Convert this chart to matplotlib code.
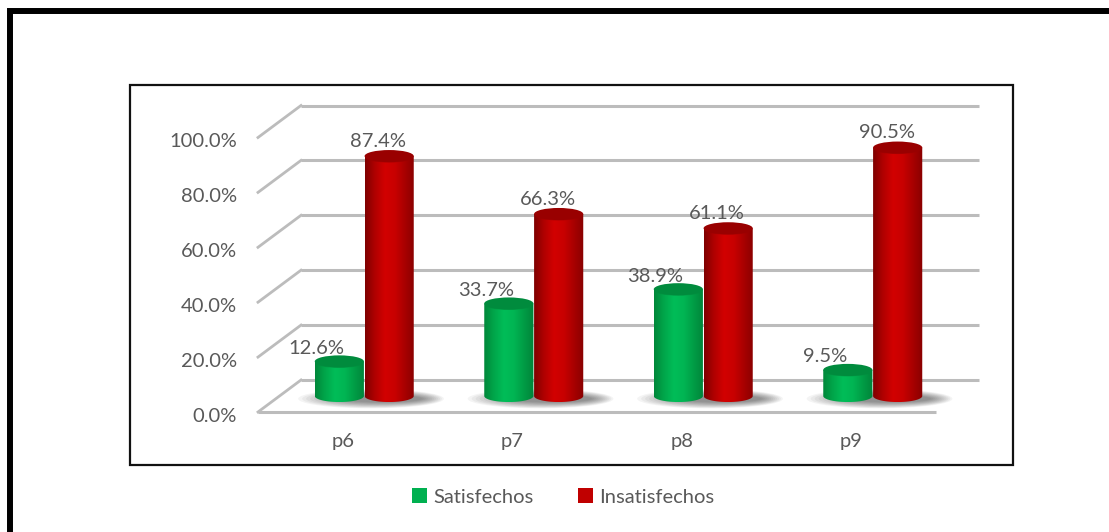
import numpy as np
import matplotlib.pyplot as plt
from matplotlib import transforms
from matplotlib.patches import Ellipse, Rectangle, PathPatch
from matplotlib.path import Path
from matplotlib.lines import Line2D
from matplotlib.colors import LinearSegmentedColormap

plt.rcParams['font.family'] = ['Lato', 'DejaVu Sans']

categorias = ['p6', 'p7', 'p8', 'p9']
satisfechos = [12.6, 33.7, 38.9, 9.5]
insatisfechos = [87.4, 66.3, 61.1, 90.5]
ticks = [0, 20, 40, 60, 80, 100]
series = ['Satisfechos', 'Insatisfechos']

TXT = '#595959'
GRID = '#bcbcbc'
FS = 14.5

W, H = 1109, 532
YMIN = -12
fig = plt.figure(figsize=(W / 100, H / 100), dpi=100)
# axes = middle depth plane where the cylinders stand (2.745 px per %)
ax = fig.add_axes([279.5 / W, (H - 396 - 2.745 * -YMIN) / H,
                   678 / W, 2.745 * (100 - YMIN) / H])
ax.axis('off')
ax.set_xlim(-0.5, 3.5)
ax.set_ylim(YMIN, 100)


def shift(dx, dy):
    return transforms.ScaledTranslation(dx / fig.dpi, dy / fig.dpi, fig.dpi_scale_trans)


back = ax.transData + shift(21.5, 16)
front = ax.transData + shift(-21.5, -16)

# back wall gridlines + left side wall slants
for t in ticks:
    ax.plot([-0.5, 3.5], [t, t], color=GRID, lw=2.2, transform=back, zorder=1,
            solid_capstyle='butt', clip_on=False)
    p0 = front.transform((-0.5, t))
    p1 = back.transform((-0.5, t))
    fig.add_artist(Line2D([p0[0], p1[0]], [p0[1], p1[1]], color=GRID, lw=2.0,
                          transform=transforms.IdentityTransform(), zorder=1))
    ax.text(-0.5, t, f'{t:.1f}%', transform=front + shift(-21, -4),
            ha='right', va='center', fontsize=FS, color=TXT)

# floor front edge
ax.plot([-0.5, 3.5], [0, 0], color=GRID, lw=2.2, transform=front, zorder=1,
        solid_capstyle='butt', clip_on=False)

for i, c in enumerate(categorias):
    ax.text(i, 0, c, transform=front + shift(0, -30), ha='center', va='center',
            fontsize=FS, color=TXT)

w = 0.29
eh = 4.4  # ellipse height in value units (~12 px)

cm_green = LinearSegmentedColormap.from_list(
    'g', ['#00873a', '#00a64a', '#00bd58', '#00b553', '#009c45', '#00843a'])
cm_red = LinearSegmentedColormap.from_list(
    'r', ['#7e0000', '#b00000', '#d20000', '#c80000', '#a80000', '#880000'])
top_green = '#008b3d'
top_red = '#990000'

grad = np.linspace(0, 1, 256).reshape(1, -1)

# soft floor shadows, a bit heavier towards the right
for i in range(len(categorias)):
    for k in range(12):
        sw = 0.86 - k * 0.035
        sh = 7.0 - k * 0.4
        ax.add_patch(Ellipse((i + 0.04 + k * 0.006, -1.0), sw, sh, color='black',
                             alpha=0.045, lw=0, zorder=2))


def cylinder(xc, v, cmap, topc, z):
    x0, x1 = xc - w / 2, xc + w / 2
    th = np.linspace(np.pi, 2 * np.pi, 60)
    verts = [(x0, v)] + [(x0, 0)]
    verts += list(zip(xc + w / 2 * np.cos(th), eh / 2 * np.sin(th)))
    verts += [(x1, v), (x0, v)]
    codes = [Path.MOVETO] + [Path.LINETO] * (len(verts) - 2) + [Path.CLOSEPOLY]
    body = PathPatch(Path(verts, codes), fc='none', lw=0, transform=ax.transData)
    ax.add_patch(body)
    im = ax.imshow(grad, extent=[x0, x1, -eh / 2, v], aspect='auto', cmap=cmap,
                   interpolation='bicubic', zorder=z)
    im.set_clip_path(body)
    ax.add_patch(Ellipse((xc, v), w, eh, fc=topc, ec='none', zorder=z + 0.1))
    ax.add_patch(Ellipse((xc, v - 0.6), w * 0.96, eh * 0.8, fc=topc, ec='none',
                         alpha=0.6, zorder=z + 0.1))


for i in range(len(categorias)):
    cylinder(i - 0.147, satisfechos[i], cm_green, top_green, 3)
    cylinder(i + 0.147, insatisfechos[i], cm_red, top_red, 4)

for i in range(len(categorias)):
    ax.annotate(f'{satisfechos[i]:.1f}%', (i - 0.147, satisfechos[i]),
                xytext=(-23, 13), textcoords='offset pixels', ha='center',
                va='center', fontsize=FS, color=TXT, zorder=6)
    ax.annotate(f'{insatisfechos[i]:.1f}%', (i + 0.147, insatisfechos[i]),
                xytext=(-11, 15), textcoords='offset pixels', ha='center',
                va='center', fontsize=FS, color=TXT, zorder=6)

ax.set_xlim(-0.5, 3.5)
ax.set_ylim(YMIN, 100)

# chart area box and outer frame
fig.add_artist(Rectangle((130 / W, 1 - 465 / H), 883 / W, 380 / H, fill=False,
                         ec='#111111', lw=1.6, transform=fig.transFigure))
fig.add_artist(Rectangle((10 / W, -0.2), 1.5, 1.2 - 11 / H, fill=False,
                         ec='black', lw=4.3, transform=fig.transFigure))

handles = [Rectangle((0, 0), 1, 1, fc='#00b050', ec='none'),
           Rectangle((0, 0), 1, 1, fc='#c00000', ec='none')]
fig.legend(handles, series, loc='center', bbox_to_anchor=(563 / W, 1 - 497 / H),
           ncol=2, frameon=False, fontsize=FS, labelcolor=TXT,
           handlelength=0.75, handleheight=0.75, handletextpad=0.3,
           columnspacing=2.2)

fig.savefig('out.png', dpi=100)
